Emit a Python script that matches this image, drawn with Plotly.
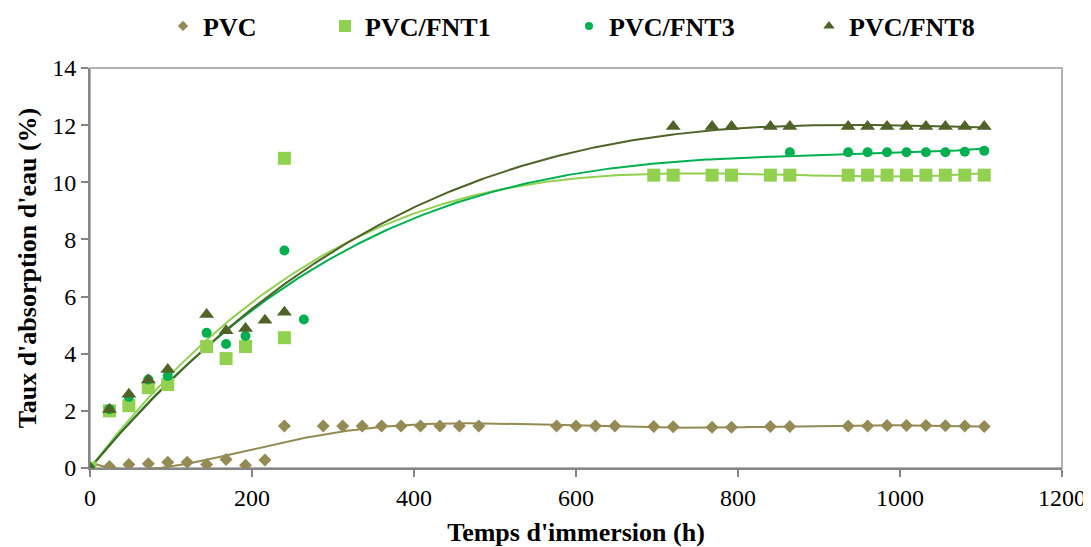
import numpy as np
import plotly.graph_objects as go

# ---------------- data ----------------
pvc_t = [0, 24, 48, 72, 96, 120, 144, 168, 192, 216, 240, 288, 312, 336, 360, 384, 408, 432, 456, 480,
         576, 600, 624, 648, 696, 720, 768, 792, 840, 864, 936, 960, 984, 1008, 1032, 1056, 1080, 1104]
pvc_v = [0, 0.05, 0.12, 0.15, 0.2, 0.2, 0.12, 0.3, 0.1, 0.28, 1.47, 1.47, 1.47, 1.47, 1.47, 1.47, 1.47, 1.47, 1.47, 1.47,
         1.47, 1.47, 1.47, 1.47, 1.45, 1.44, 1.43, 1.43, 1.45, 1.45, 1.47, 1.47, 1.49, 1.49, 1.49, 1.48, 1.47, 1.45]

fnt1_t = [0, 24, 48, 72, 96, 144, 168, 192, 240, 240,
          696, 720, 768, 792, 840, 864, 936, 960, 984, 1008, 1032, 1056, 1080, 1104]
fnt1_v = [0, 2.0, 2.18, 2.81, 2.92, 4.25, 3.83, 4.25, 10.84, 4.56,
          10.25, 10.25, 10.25, 10.25, 10.25, 10.25, 10.25, 10.25, 10.25, 10.25, 10.25, 10.25, 10.25, 10.25]

fnt3_t = [0, 24, 48, 72, 96, 144, 168, 192, 240, 264,
          864, 936, 960, 984, 1008, 1032, 1056, 1080, 1104]
fnt3_v = [0, 2.06, 2.49, 3.1, 3.22, 4.73, 4.34, 4.62, 7.61, 5.2,
          11.05, 11.05, 11.05, 11.05, 11.05, 11.05, 11.05, 11.07, 11.1]

fnt8_t = [0, 24, 48, 72, 96, 144, 168, 192, 216, 240,
          720, 768, 792, 840, 864, 936, 960, 984, 1008, 1032, 1056, 1080, 1104]
fnt8_v = [0, 2.05, 2.58, 3.08, 3.45, 5.37, 4.8, 4.88, 5.17, 5.45,
          11.95, 11.95, 11.95, 11.95, 11.95, 11.95, 11.95, 11.95, 11.95, 11.95, 11.95, 11.95, 11.95]

names = ["PVC", "PVC/FNT1", "PVC/FNT3", "PVC/FNT8"]
x_ticks = [0, 200, 400, 600, 800, 1000, 1200]
y_ticks = [0, 2, 4, 6, 8, 10, 12, 14]

# ---------------- styles ----------------
# (times, values, colour, symbol, marker size, legend marker size, trend order, zero intercept)
series = [
    (pvc_t, pvc_v, "#948A54", "diamond", 10, 8, 6, False),
    (fnt1_t, fnt1_v, "#92D050", "square", 13, 12, 3, True),
    (fnt3_t, fnt3_v, "#00B050", "circle", 10, 8, 3, True),
    (fnt8_t, fnt8_v, "#4F6228", "triangle-up", 13, 10, 3, True),
]
W, H = 1083, 539
legend_x = [155 / W, 317 / W, 561 / W, 801 / W]
legend_y = 1 - 18 / H
FONT = "Liberation Serif, Times New Roman, Tinos, serif"


def poly_trend(t, v, deg, zero):
    t = np.asarray(t, float)
    v = np.asarray(v, float)
    s = t.max()
    k0 = 1 if zero else 0
    A = np.column_stack([(t / s) ** k for k in range(k0, deg + 1)])
    c, *_ = np.linalg.lstsq(A, v, rcond=None)
    return lambda x: sum(c[i] * (x / s) ** k for i, k in enumerate(range(k0, deg + 1)))


fig = go.Figure()

# polynomial trendlines fitted to each series
for (t, v, col, sym, sz, lsz, deg, zero) in series:
    f = poly_trend(t, v, deg, zero)
    xs = np.linspace(min(t), max(t), 300)
    fig.add_trace(go.Scatter(x=xs, y=f(xs), mode="lines",
                             line=dict(color=col, width=2), showlegend=False, hoverinfo="skip"))

# data markers
for (t, v, col, sym, sz, lsz, deg, zero), nm in zip(series, names):
    fig.add_trace(go.Scatter(x=t, y=v, mode="markers", name=nm,
                             marker=dict(symbol=sym, size=sz, color=col, line=dict(width=0)),
                             showlegend=False))

# legend entries (small symbols, as in the reference)
for i, ((t, v, col, sym, sz, lsz, deg, zero), nm) in enumerate(zip(series, names)):
    fig.add_trace(go.Scatter(x=[None], y=[None], mode="markers", name=nm,
                             marker=dict(symbol=sym, size=lsz, color=col, line=dict(width=0)),
                             showlegend=True, legend="legend" if i == 0 else f"legend{i+1}"))

leg_common = dict(orientation="h", xref="container", yref="container",
                  yanchor="middle", y=legend_y, xanchor="left",
                  bgcolor="rgba(0,0,0,0)", borderwidth=0,
                  font=dict(family=FONT, size=26, color="black", weight="bold"))
layout_legends = {}
for i, lx in enumerate(legend_x):
    key = "legend" if i == 0 else f"legend{i+1}"
    layout_legends[key] = dict(leg_common, x=lx)

fig.update_layout(
    width=W, height=H,
    margin=dict(l=82, r=29, t=60, b=79, autoexpand=False),
    paper_bgcolor="white", plot_bgcolor="white",
    font=dict(family=FONT, color="black"),
    **layout_legends,
    shapes=[dict(type="rect", xref="paper", yref="paper", x0=0, y0=0, x1=1, y1=1,
                 line=dict(color="#B3B3B3", width=2), layer="below")],
)

axis_common = dict(showline=True, linecolor="#868686", linewidth=2,
                   ticks="outside", ticklen=7, tickwidth=2, tickcolor="#868686",
                   showgrid=False, zeroline=False, automargin=False,
                   tickfont=dict(family=FONT, size=24, color="black"))

fig.update_xaxes(range=[0, 1200], tickvals=x_ticks, ticktext=[str(v) for v in x_ticks],
                 title=dict(text="Temps d'immersion (h)", standoff=14,
                            font=dict(family=FONT, size=26, color="black", weight="bold")),
                 **axis_common)
fig.update_yaxes(range=[0, 14], tickvals=y_ticks, ticktext=[str(v) for v in y_ticks],
                 title=dict(text="Taux d'absorption d'eau (%)", standoff=8,
                            font=dict(family=FONT, size=26, color="black", weight="bold")),
                 **axis_common)

fig.write_html("out.html")
